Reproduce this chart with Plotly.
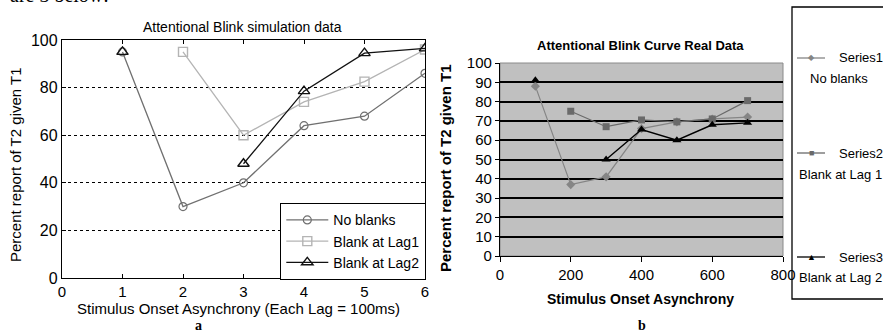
import plotly.graph_objects as go

W, H = 883, 332

# ---- Panel a data (simulation) ----
sim_lags = [1, 2, 3, 4, 5, 6]
sim_no_blanks = [95, 30, 40, 64, 68, 86]
sim_blank_lag1 = [None, 95, 60, 74, 82.5, 96]
sim_blank_lag2 = [95, None, 48, 78.5, 94.5, 96.5]
sim_yticks = [0, 20, 40, 60, 80, 100]
sim_xticks = [0, 1, 2, 3, 4, 5, 6]

# ---- Panel b data (real) ----
real_soa = [100, 200, 300, 400, 500, 600, 700]
real_series1 = [88, 37, 41, 66, 69.5, 71, 72]
real_series2 = [None, 75, 67, 70.5, 69.5, 71, 80.5]
real_series3 = [91, None, 50, 65.5, 60, 68, 69]
real_yticks = list(range(0, 101, 10))
real_xticks = [0, 200, 400, 600, 800]

SANS = "Liberation Sans, Arial, sans-serif"
SERIF = "Liberation Serif, Times New Roman, serif"


def px(x):
    return x / W


def py(y):
    return 1 - y / H


fig = go.Figure()

# Panel a traces
fig.add_trace(go.Scatter(x=sim_lags, y=sim_no_blanks, name="No blanks", mode="lines+markers",
                         line=dict(color="#707070", width=1.3),
                         marker=dict(symbol="circle-open", size=8, color="#707070", line=dict(width=1.2)),
                         xaxis="x", yaxis="y", legend="legend"))
fig.add_trace(go.Scatter(x=sim_lags, y=sim_blank_lag1, name="Blank at Lag1", mode="lines+markers",
                         line=dict(color="#b4b4b4", width=1.3),
                         marker=dict(symbol="square-open", size=9, color="#b4b4b4", line=dict(width=1.4)),
                         xaxis="x", yaxis="y", legend="legend"))
fig.add_trace(go.Scatter(x=sim_lags, y=sim_blank_lag2, name="Blank at Lag2", mode="lines+markers",
                         line=dict(color="#111111", width=1.3),
                         marker=dict(symbol="triangle-up-open", size=10, color="#111111", line=dict(width=1.4)),
                         xaxis="x", yaxis="y", legend="legend"))

# Panel b traces
fig.add_trace(go.Scatter(x=real_soa, y=real_series1, name="Series1", mode="lines+markers",
                         line=dict(color="#858585", width=1.2),
                         marker=dict(symbol="diamond", size=7, color="#858585"),
                         xaxis="x2", yaxis="y2", showlegend=False))
fig.add_trace(go.Scatter(x=real_soa, y=real_series2, name="Series2", mode="lines+markers",
                         line=dict(color="#6a6a6a", width=1.2),
                         marker=dict(symbol="square", size=7, color="#6a6a6a"),
                         xaxis="x2", yaxis="y2", showlegend=False))
fig.add_trace(go.Scatter(x=real_soa, y=real_series3, name="Series3", mode="lines+markers",
                         line=dict(color="#000000", width=1.4),
                         marker=dict(symbol="triangle-up", size=8, color="#000000"),
                         xaxis="x2", yaxis="y2", showlegend=False))

fig.update_layout(
    width=W, height=H,
    margin=dict(l=0, r=0, t=0, b=0, autoexpand=False),
    paper_bgcolor="white", plot_bgcolor="rgba(0,0,0,0)",
    font=dict(family=SANS, color="black"),
    xaxis=dict(domain=[px(62), px(425)], range=[0, 6], tickvals=sim_xticks,
               ticks="inside", ticklen=4, tickcolor="black", showline=True, linecolor="black",
               linewidth=1.3, mirror="ticks", showgrid=False, zeroline=False,
               tickfont=dict(size=15), anchor="y", fixedrange=True),
    yaxis=dict(domain=[py(278), py(40)], range=[0, 100], tickvals=sim_yticks,
               ticks="inside", ticklen=4, tickcolor="black", showline=True, linecolor="black",
               linewidth=1.3, mirror="ticks", showgrid=True, gridcolor="black", griddash="3px,3px",
               gridwidth=1.3, zeroline=False, tickfont=dict(size=16), anchor="x", fixedrange=True),
    xaxis2=dict(domain=[px(500), px(783)], range=[0, 800], tickvals=real_xticks,
                ticks="outside", ticklen=5, tickcolor="black", showline=True, linecolor="black",
                linewidth=1.3, showgrid=False, zeroline=False, tickfont=dict(size=15),
                anchor="y2", fixedrange=True),
    yaxis2=dict(domain=[py(256), py(63)], range=[0, 100], tickvals=real_yticks,
                ticks="outside", ticklen=4, tickcolor="black", showline=True, linecolor="black",
                linewidth=1.3, showgrid=True, gridcolor="black", gridwidth=1.5, zeroline=False,
                tickfont=dict(size=15), anchor="x2", fixedrange=True),
    legend=dict(x=px(426), y=py(203), xanchor="right", yanchor="top",
                bgcolor="white", bordercolor="black", borderwidth=1.3,
                font=dict(size=14, family=SANS), itemwidth=42, tracegroupgap=0),
    showlegend=True,
)

# gray plot area of panel b
fig.add_shape(type="rect", xref="x2 domain", yref="y2 domain", x0=0, x1=1, y0=0, y1=1,
              fillcolor="#c0c0c0", line=dict(color="#8a8a8a", width=1), layer="below")

# panel b legend box (extends past right edge)
fig.add_shape(type="rect", xref="paper", yref="paper", x0=px(792), x1=px(900), y0=py(299), y1=py(7),
              line=dict(color="black", width=1.3), fillcolor="rgba(0,0,0,0)")

legend_b = [
    ("Series1", "No blanks", 58, 79, 808, "#858585", "◆", 8),
    ("Series2", "Blank at Lag 1", 153, 174, 797, "#6a6a6a", "■", 9),
    ("Series3", "Blank at Lag 2", 257, 277, 797, "#000000", "▲", 9),
]
annotations = []
for name, label, ly, ty, tx, col, sym, ssize in legend_b:
    fig.add_shape(type="line", xref="paper", yref="paper", x0=px(797), x1=px(825), y0=py(ly), y1=py(ly),
                  line=dict(color=col, width=1.3))
    annotations.append(dict(x=px(811), y=py(ly), xref="paper", yref="paper", text=sym, showarrow=False,
                            font=dict(size=ssize, color=col), xanchor="center", yanchor="middle"))
    annotations.append(dict(x=px(837), y=py(ly), xref="paper", yref="paper", text=name, showarrow=False,
                            font=dict(size=13), xanchor="left", yanchor="middle"))
    annotations.append(dict(x=px(tx), y=py(ty), xref="paper", yref="paper", text=label, showarrow=False,
                            font=dict(size=13), xanchor="left", yanchor="middle"))

texts = [
    # (text, x, y, size, bold, family, angle)
    ("Attentional Blink simulation data", 243, 27, 14, False, SANS, 0),
    ("Stimulus Onset Asynchrony (Each Lag = 100ms)", 238, 308, 15, False, SANS, 0),
    ("Percent report of T2 given T1", 15, 165, 15, False, SANS, -90),
    ("Attentional Blink Curve Real Data", 640, 45, 13, True, SANS, 0),
    ("Stimulus Onset Asynchrony", 640, 299, 14, True, SANS, 0),
    ("Percent report of T2 given T1", 445, 168, 15, True, SANS, -90),
    ("a", 198, 325.5, 14, True, SERIF, 0),
    ("b", 642, 325.5, 14, True, SERIF, 0),
]
for t, x, y, s, b, fam, ang in texts:
    annotations.append(dict(x=px(x), y=py(y), xref="paper", yref="paper",
                            text=f"<b>{t}</b>" if b else t, showarrow=False,
                            font=dict(size=s, family=fam, color="black"),
                            xanchor="center", yanchor="middle", textangle=ang))

# clipped running text at the very top
annotations.append(dict(x=px(8), y=py(8), xref="paper", yref="paper", text="are 3 below:",
                        showarrow=False, font=dict(size=20, family=SERIF, color="black"),
                        xanchor="left", yanchor="bottom"))

fig.update_layout(annotations=annotations)

fig.write_html("out.html", config={"displayModeBar": False},
               post_script="document.body.style.margin='0px';document.body.style.overflow='hidden';")
